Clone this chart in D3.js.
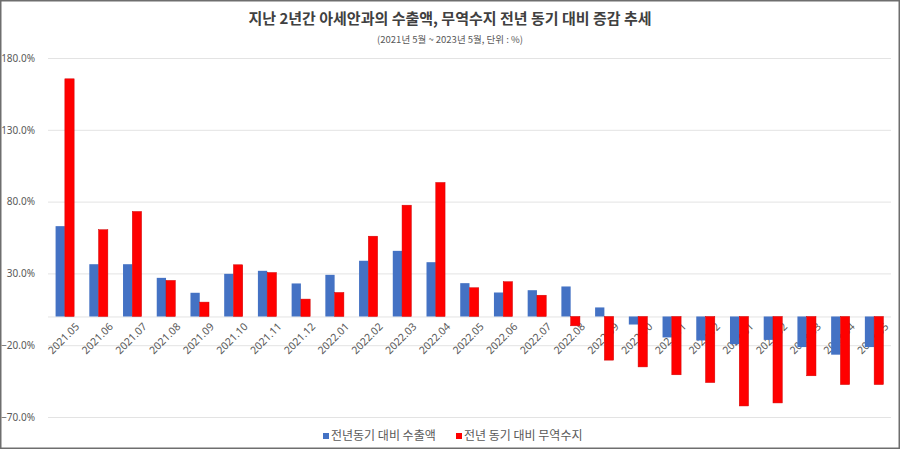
<!DOCTYPE html>
<html>
<head>
<meta charset="utf-8">
<title>아세안 수출액 무역수지</title>
<style>
  body { margin: 0; background: #fff; }
  svg { display: block; font-family: "Noto Sans CJK KR", "Noto Sans", sans-serif; }
</style>
</head>
<body>
<svg width="900" height="450"></svg>
<script src="https://cdn.jsdelivr.net/npm/d3@7"></script>
<script>
var months = ["2021.05", "2021.06", "2021.07", "2021.08", "2021.09", "2021.10", "2021.11", "2021.12",
  "2022.01", "2022.02", "2022.03", "2022.04", "2022.05", "2022.06", "2022.07", "2022.08",
  "2022.09", "2022.10", "2022.11", "2022.12", "2023.01", "2023.02", "2023.03", "2023.04", "2023.05"];

// 전년동기 대비 수출액 (%)
var exportChange = [62.9, 36.4, 36.4, 26.9, 16.5, 29.7, 31.8, 23.0,
  29.0, 38.8, 45.7, 37.8, 23.2, 16.7, 18.3, 20.9,
  6.3, -5.6, -14.6, -16.7, -19.3, -16.3, -21.3, -26.6, -21.3];

// 전년 동기 대비 무역수지 (%)
var balanceChange = [165.5, 60.4, 73.1, 25.1, 10.0, 36.0, 30.6, 12.1,
  16.7, 55.9, 77.5, 93.3, 20.0, 24.2, 14.8, -6.5,
  -30.4, -35.1, -40.6, -46.0, -62.3, -60.2, -41.3, -47.4, -47.4];

var yTicks = [-70, -20, 30, 80, 130, 180];

var seriesNames = ["전년동기 대비 수출액", "전년 동기 대비 무역수지"];
var colors = ["#4472C4", "#FF0000"];

var svg = d3.select("svg");
var margin = { top: 58, right: 9, bottom: 33, left: 48 };
var width = 900 - margin.left - margin.right;
var height = 450 - margin.top - margin.bottom;

// outer chart frame
svg.append("rect")
  .attr("x", 0.75).attr("y", 0.75)
  .attr("width", 898.5).attr("height", 447.5)
  .attr("fill", "#fff")
  .attr("stroke", "#6e6e6e")
  .attr("stroke-width", 1.5);

var x = d3.scaleBand()
  .domain(months)
  .range([0, width])
  .paddingInner(0.45)
  .paddingOuter(0.225);

var xSub = d3.scaleBand()
  .domain([0, 1])
  .range([0, x.bandwidth()]);

var y = d3.scaleLinear()
  .domain([-70, 180])
  .range([height, 0]);

var g = svg.append("g")
  .attr("transform", "translate(" + margin.left + "," + margin.top + ")");

// gridlines
g.append("g")
  .selectAll("line")
  .data(yTicks)
  .enter().append("line")
  .attr("x1", 0)
  .attr("x2", width)
  .attr("y1", function(d) { return y(d) + 0.5; })
  .attr("y2", function(d) { return y(d) + 0.5; })
  .attr("stroke", "#e3e3e3")
  .attr("stroke-width", 1);

// y axis labels
var yAxis = g.append("g")
  .attr("transform", "translate(-10,0)")
  .call(d3.axisLeft(y).tickValues(yTicks).tickSize(0).tickFormat(function(d) { return d3.format(".1f")(d) + "%"; }));
yAxis.select(".domain").remove();
yAxis.selectAll("text")
  .attr("fill", "#595959")
  .style("font-size", "10px")
  .style("font-family", "'Noto Sans', sans-serif");

// zero line
g.append("line")
  .attr("x1", 0).attr("x2", width)
  .attr("y1", y(0) + 0.5).attr("y2", y(0) + 0.5)
  .attr("stroke", "#e3e3e3");

// x labels (drawn under the bars)
var xAxis = g.append("g")
  .attr("transform", "translate(0," + y(0) + ")")
  .call(d3.axisBottom(x).tickSize(0));
xAxis.select(".domain").remove();
xAxis.selectAll("text")
  .attr("fill", "#595959")
  .style("font-size", "10.5px")
  .style("font-family", "'Noto Sans', sans-serif")
  .style("text-anchor", "end")
  .attr("dx", "0.2em")
  .attr("dy", "0.3em")
  .attr("transform", function() { return "translate(" + (x.bandwidth() / 2) + ",8) rotate(-45)"; });

// bars
var data = months.map(function(m, i) {
  return { month: m, values: [exportChange[i], balanceChange[i]] };
});

var groups = g.selectAll(".grp")
  .data(data)
  .enter().append("g")
  .attr("class", "grp")
  .attr("transform", function(d) { return "translate(" + x(d.month) + ",0)"; });

groups.selectAll("rect")
  .data(function(d) { return d.values.map(function(v, k) { return { k: k, v: v }; }); })
  .enter().append("rect")
  .attr("x", function(d) { return xSub(d.k); })
  .attr("width", xSub.bandwidth())
  .attr("y", function(d) { return y(Math.max(0, d.v)); })
  .attr("height", function(d) { return Math.abs(y(d.v) - y(0)); })
  .attr("fill", function(d) { return colors[d.k]; })
  .attr("stroke", function(d) { return d.k === 1 ? "#d00000" : "none"; })
  .attr("stroke-width", 0.5);

// title
svg.append("text")
  .attr("x", 450)
  .attr("y", 24)
  .attr("text-anchor", "middle")
  .attr("fill", "#404040")
  .style("font-size", "15px")
  .style("font-weight", "bold")
  .text("지난 2년간 아세안과의 수출액, 무역수지 전년 동기 대비 증감 추세");

svg.append("text")
  .attr("x", 450)
  .attr("y", 43)
  .attr("text-anchor", "middle")
  .attr("fill", "#595959")
  .style("font-size", "9.5px")
  .text("(2021년 5월 ~ 2023년 5월, 단위 : %)");

// legend
var legend = svg.append("g")
  .attr("transform", "translate(0,436)");
var legendX = [323, 456];
seriesNames.forEach(function(name, i) {
  legend.append("rect")
    .attr("x", legendX[i])
    .attr("y", -3)
    .attr("width", 6)
    .attr("height", 6)
    .attr("fill", colors[i]);
  legend.append("text")
    .attr("x", legendX[i] + 8)
    .attr("y", 0)
    .attr("dy", "0.35em")
    .attr("fill", "#595959")
    .style("font-size", "12px")
    .text(name);
});
</script>
</body>
</html>
